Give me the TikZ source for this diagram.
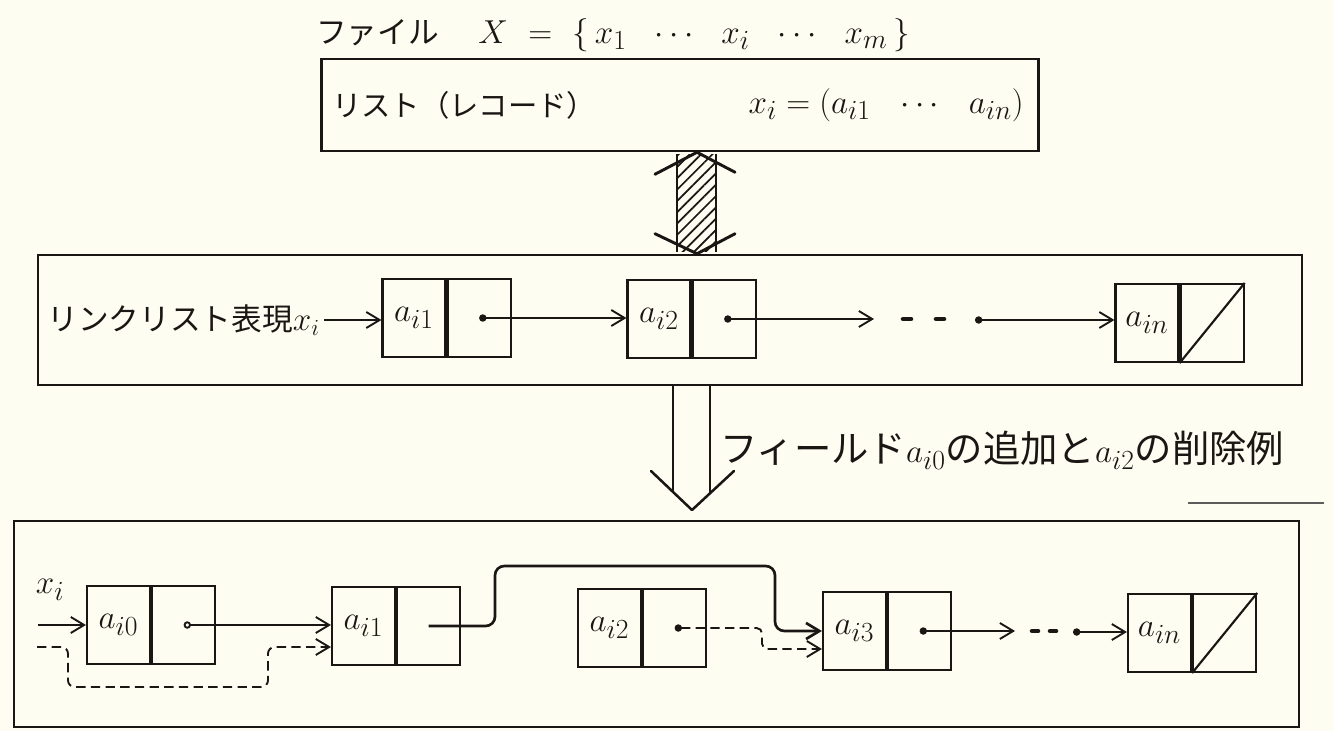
\documentclass[tikz,border=0pt]{standalone}
\usepackage{fontspec}
\newfontfamily\jp{Noto Sans CJK JP}
\usetikzlibrary{arrows.meta,patterns.meta,calc}
\definecolor{paper}{RGB}{254,253,241}
\definecolor{ink}{RGB}{25,22,20}
\begin{document}
\begin{tikzpicture}[x=0.75pt,y=-0.75pt, color=ink,
  frame/.style={draw=ink, line width=1.9pt, inner sep=0pt},
  cell/.style={draw=ink, line width=1.6pt, minimum width=47.25pt, minimum height=58.5pt, inner sep=0pt, font=\fontsize{30}{34}\selectfont},
  link/.style={line width=1.4pt, -{Straight Barb[length=10pt,width=12pt]}},
  ptr/.style={line width=1.4pt, {Circle[length=5.5pt]}-{Straight Barb[length=10pt,width=12pt]}},
  optr/.style={line width=1.4pt, {Circle[open,length=5.5pt,fill=paper]}-{Straight Barb[length=10pt,width=12pt]}},
  dlink/.style={link, dash pattern=on 7pt off 4pt},
  dptr/.style={ptr, dash pattern=on 7pt off 4pt},
  dots/.style={line width=3.4pt, line cap=round},
  jplabel/.style={text=ink, inner sep=0pt},
]
\fill[paper] (0,0) rectangle (1334,731);
\useasboundingbox (0,0) rectangle (1334,731);

% ---- title
\node[jplabel, anchor=west, font=\jp\fontsize{23}{27}\selectfont] (tjp) at (316,33) {ファイル};
\node[jplabel, anchor=west, font=\fontsize{28}{32}\selectfont] (tmath) at (478,35) {$X\ =\ \{\,x_1\ \ \cdots\ \ x_i\ \ \cdots\ \ x_m\,\}$};

% ---- top box
\node[frame, minimum width=538pt, minimum height=69pt] (tbox) at (680,105) {};
\node[jplabel, anchor=west, font=\jp\fontsize{22}{26}\selectfont] (trec) at (332,105) {リスト（レコード）};
\node[jplabel, anchor=east, font=\fontsize{30}{34}\selectfont] (tx) at (1024,105) {$x_i=(a_{i1}\ \ \cdots\ \ a_{in})$};

% ---- middle box
\node[frame, minimum width=948pt, minimum height=97.5pt] (mbox) at (670,320) {};

% ---- hatched double arrow between top and middle boxes
\path (tbox.south) ++(17,0) coordinate (hA);
\path (mbox.north) ++(27,0) coordinate (hB);
\fill[pattern={Lines[angle=45,distance=6pt,line width=1.3pt]}, pattern color=ink]
  ($(hA)+(-20,2)$) rectangle ($(hB)+(19,-2)$);
\draw[line width=1.6pt] ($(hA)+(-20,2)$) -- ($(hB)+(-20,-2)$);
\draw[line width=1.6pt] ($(hA)+(19,2)$) -- ($(hB)+(19,-2)$);
\draw[line width=2.2pt, line cap=round, line join=round] ($(hA)+(-42,22)$) -- (hA) -- ($(hA)+(38,20)$);
\draw[line width=2.2pt, line cap=round, line join=round] ($(hB)+(-42,-20)$) -- (hB) -- ($(hB)+(38,-20)$);

% ---- middle row
\node[jplabel, anchor=east, font=\jp\fontsize{23}{27}\selectfont] (mlab) at (320,320) {リンクリスト表現$x_i$};
\node[cell] (m1) at (414,318) {$a_{i1}$};
\node[cell, anchor=west] (m1p) at (m1.east) {};
\node[cell] (m2) at (659,319) {$a_{i2}$};
\node[cell, anchor=west] (m2p) at (m2.east) {};
\node[cell] (mn) at (1147,323) {$a_{in}$};
\node[cell, anchor=west] (mnp) at (mn.east) {};
\draw[line width=1.6pt] (mnp.south west) -- (mnp.north east);

\draw[link] ($(mlab.east)+(4,0)$) -- (m1.west |- mlab.east);
\draw[ptr] (m1p.center) -- (m1p.center -| m2.west);
\coordinate (mc1) at (874,319);
\draw[ptr] (m2p.center) -- (mc1);
\draw[dots] (903,319) -- (911,319);
\draw[dots] (936,319) -- (944,319);
\coordinate (mc2) at (975,320);
\draw[ptr] (mc2) -- (mc2 -| mn.west);

% ---- down double arrow
\path (mbox.south) ++(3,0) coordinate (dA);
\path (mbox.south) ++(40,0) coordinate (dB);
\coordinate (dT) at (692,510);
\draw[line width=1.6pt] (dA) -- ++(0,107);
\draw[line width=1.6pt] (dB) -- ++(0,107);
\draw[line width=1.9pt, line cap=round, line join=round] ($(dT)+(-41,-39)$) -- (dT) -- ($(dT)+(42,-39)$);
\node[jplabel, anchor=west, font=\jp\fontsize{28}{32}\selectfont] (dlab) at (720,450) {フィールド$a_{i0}$の追加と$a_{i2}$の削除例};
\coordinate (r1) at (1188,503);
\coordinate (r2) at (1324,503);
\draw[line width=0.8pt, draw=ink!70] (r1) -- (r2);

% ---- bottom box
\node[frame, minimum width=963.75pt, minimum height=154.5pt] (bbox) at (656.5,624) {};

\node[jplabel, font=\fontsize{28}{32}\selectfont] (bxi) at (50,590) {$x_i$};
\node[cell] (b0) at (118.5,625) {$a_{i0}$};
\node[cell, anchor=west] (b0p) at (b0.east) {};
\node[cell] (b1) at (363.5,626) {$a_{i1}$};
\node[cell, anchor=west] (b1p) at (b1.east) {};
\node[cell] (b2) at (609.5,628) {$a_{i2}$};
\node[cell, anchor=west] (b2p) at (b2.east) {};
\node[cell] (b3) at (854.5,631) {$a_{i3}$};
\node[cell, anchor=west] (b3p) at (b3.east) {};
\node[cell] (bn) at (1159.5,633) {$a_{in}$};
\node[cell, anchor=west] (bnp) at (bn.east) {};
\draw[line width=1.6pt] (bnp.south west) -- (bnp.north east);

\coordinate (s1) at (38,625);
\draw[link] (s1) -- (s1 -| b0.west);
\draw[optr] (b0p.center) -- (b0p.center -| b1.west);

\coordinate (s2) at (37,647);
\coordinate (d1) at ($(b1.west)+(0,21)$);
\draw[dlink, rounded corners=5pt] (s2) -- (68,647) -- (68,687) -- (268,687) -- (268,647) -- (d1);

\draw[link, line width=2pt, rounded corners=7pt] (b1p.center) -- (495,626) -- (495,566) -- (775,566) -- (775,631) -- (b3.west);

\coordinate (d3) at ($(b3.west)+(0,18)$);
\draw[dptr, rounded corners=4pt] (b2p.center) -- (762,628) -- (762,649) -- (d3);

\coordinate (e1) at (1015,631);
\draw[ptr] (b3p.center) -- (e1);
\draw[dots] (1032,631) -- (1038,631);
\draw[dots] (1050,631) -- (1056,631);
\coordinate (e2) at (1073,632);
\draw[ptr] (e2) -- (e2 -| bn.west);
\end{tikzpicture}
\end{document}
